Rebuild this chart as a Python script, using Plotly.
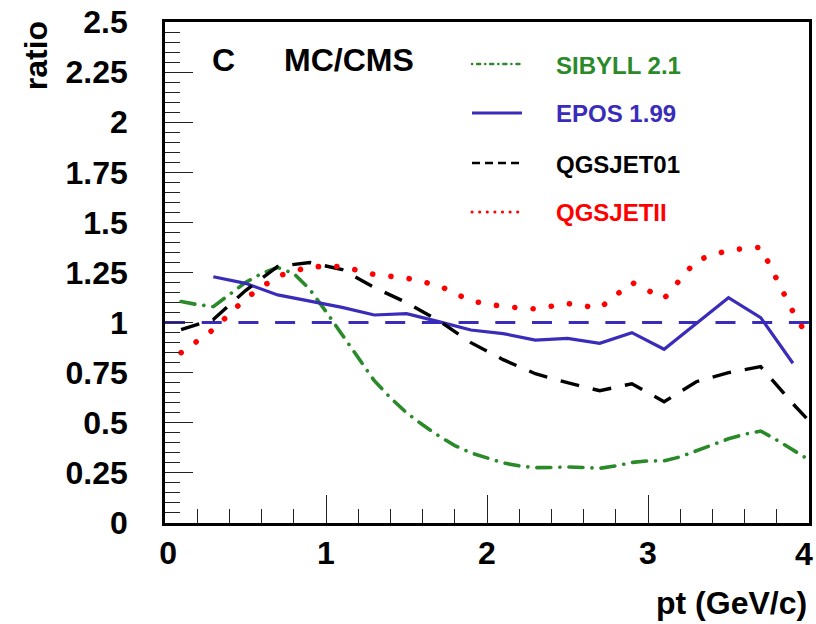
import plotly.graph_objects as go

# ---------------- data ----------------
sib_x = [0.1, 0.2, 0.3, 0.4, 0.5, 0.6, 0.7, 0.8, 0.9, 1.0,
         1.1, 1.2, 1.3, 1.4, 1.5, 1.6, 1.7, 1.8, 1.9, 2.0,
         2.1, 2.2, 2.3, 2.4, 2.5, 2.6, 2.7, 2.8, 2.9, 3.0,
         3.1, 3.2, 3.3, 3.4, 3.5, 3.6, 3.7, 3.8, 3.9, 3.97]
sib_y = [1.105, 1.09, 1.08, 1.14, 1.20, 1.245, 1.275, 1.245, 1.165, 1.055,
         0.94, 0.82, 0.71, 0.625, 0.55, 0.49, 0.435, 0.386, 0.35, 0.325,
         0.30, 0.285, 0.276, 0.277, 0.28, 0.277, 0.273, 0.285, 0.302, 0.31,
         0.31, 0.33, 0.36, 0.39, 0.42, 0.443, 0.459, 0.414, 0.365, 0.33]

epos_x = [0.3, 0.5, 0.7, 0.9, 1.1, 1.3, 1.5, 1.7, 1.9, 2.1,
          2.3, 2.5, 2.7, 2.9, 3.1, 3.3, 3.5, 3.7, 3.9]
epos_y = [1.229, 1.196, 1.138, 1.109, 1.076, 1.038, 1.045, 1.005, 0.963, 0.945,
          0.913, 0.921, 0.897, 0.950, 0.867, 0.995, 1.124, 1.025, 0.797]

qgs01_x = [0.1, 0.3, 0.5, 0.7, 0.9, 1.1, 1.3, 1.5, 1.7, 1.9,
           2.1, 2.3, 2.5, 2.7, 2.9, 3.1, 3.3, 3.5, 3.7, 3.9, 4.0]
qgs01_y = [0.965, 1.015, 1.16, 1.28, 1.30, 1.265, 1.175, 1.10, 1.01, 0.90,
           0.815, 0.745, 0.70, 0.66, 0.695, 0.605, 0.705, 0.75, 0.78, 0.595, 0.51]

qgs2_x = [0.1, 0.3, 0.5, 0.7, 0.9, 1.1, 1.3, 1.5, 1.7, 1.9,
          2.1, 2.3, 2.5, 2.7, 2.9, 3.1, 3.3, 3.5, 3.7, 3.9, 4.0]
qgs2_y = [0.85, 0.965, 1.12, 1.232, 1.279, 1.28, 1.24, 1.222, 1.185, 1.108,
          1.08, 1.068, 1.095, 1.072, 1.20, 1.12, 1.31, 1.362, 1.376, 1.055, 0.92]

ref_x = [0.0, 4.0]
ref_y = [1.0, 1.0]

y_tickvals = [0, 0.25, 0.5, 0.75, 1, 1.25, 1.5, 1.75, 2, 2.25, 2.5]
y_ticktext = ["0", "0.25", "0.5", "0.75", "1", "1.25", "1.5", "1.75", "2", "2.25", "2.5"]
x_tickvals = [0, 1, 2, 3, 4]
x_ticktext = ["\u20090", "1", "2", "3", ""]
x_last_label = "4"   # drawn as an annotation so it stays inside the page edge

legend_names = ["SIBYLL 2.1", "EPOS 1.99", "QGSJET01", "QGSJETII"]

# ---------------- styles ----------------
GREEN = "rgb(42, 138, 42)"
BLUE = "rgb(58, 44, 186)"
BLACK = "black"
RED = "rgb(255, 0, 0)"
FONT = "Liberation Sans"

fig = go.Figure()

fig.add_trace(go.Scatter(x=ref_x, y=ref_y, mode="lines",
                         line=dict(color=BLUE, width=3, dash="20px,16.7px"),
                         showlegend=False, hoverinfo="skip"))
fig.add_trace(go.Scatter(x=sib_x, y=sib_y, mode="lines", name=legend_names[0],
                         line=dict(color=GREEN, width=3.6, dash="14px,9px,0.1px,9px"),
                         showlegend=False))
fig.add_trace(go.Scatter(x=epos_x, y=epos_y, mode="lines", name=legend_names[1],
                         line=dict(color=BLUE, width=3.2),
                         showlegend=False))
fig.add_trace(go.Scatter(x=qgs01_x, y=qgs01_y, mode="lines", name=legend_names[2],
                         line=dict(color=BLACK, width=3.4, dash="19px,14px"),
                         showlegend=False))
fig.add_trace(go.Scatter(x=qgs2_x, y=qgs2_y, mode="lines", name=legend_names[3],
                         line=dict(color=RED, width=5.6, dash="0.1px,18.3px"),
                         showlegend=False))

# ---------------- manual legend ----------------
leg_colors = [GREEN, BLUE, BLACK, RED]
leg_dash = ["0.1px,5px,3px,5px", "solid", "8px,5px", "0.1px,7.5px"]
leg_width = [2.5, 3, 2.5, 3]
leg_y = [2.29, 2.046, 1.796, 1.552]
for name, c, d, w, yy in zip(legend_names, leg_colors, leg_dash, leg_width, leg_y):
    fig.add_shape(type="line", xref="x", yref="y", x0=1.907, x1=2.217, y0=yy, y1=yy,
                  line=dict(color=c, width=w, dash=d))
    fig.add_annotation(x=2.416, y=yy - 0.005, xref="x", yref="y", text=name,
                       showarrow=False, xanchor="left", yanchor="middle",
                       font=dict(family=FONT, size=24, color=c, weight="bold"))

fig.add_annotation(x=0.28, y=2.31, xref="x", yref="y", text="C", showarrow=False,
                   xanchor="left", yanchor="middle",
                   font=dict(family=FONT, size=32, color="black", weight="bold"))
fig.add_annotation(x=0.725, y=2.31, xref="x", yref="y", text="MC/CMS", showarrow=False,
                   xanchor="left", yanchor="middle",
                   font=dict(family=FONT, size=32, color="black", weight="bold"))

# last x tick label
fig.add_annotation(x=x_tickvals[-1], y=-0.062, xref="x", yref="paper", text=x_last_label,
                   showarrow=False, xanchor="right", yanchor="middle", xshift=6,
                   font=dict(family=FONT, size=32, color="black", weight="bold"))

# axis titles
fig.add_annotation(x=1.0, y=-0.16, xref="paper", yref="paper", text="pt (GeV/c)",
                   showarrow=False, xanchor="right", yanchor="middle",
                   font=dict(family=FONT, size=32, color="black", weight="bold"))
fig.add_annotation(x=-0.2, y=0.932, xref="paper", yref="paper", text="ratio",
                   showarrow=False, xanchor="center", yanchor="middle", textangle=-90,
                   font=dict(family=FONT, size=32, color="black", weight="bold"))

axis_common = dict(showgrid=False, zeroline=False, showline=True, linecolor="black",
                   linewidth=2.6, mirror=True, ticks="inside", tickcolor="#222",
                   tickwidth=1.2, automargin=False,
                   tickfont=dict(family=FONT, size=32, color="black", weight="bold"))

fig.update_xaxes(range=[0, 4], tickvals=x_tickvals, ticktext=x_ticktext, ticklen=28,
                 ticklabelstandoff=0,
                 minor=dict(dtick=0.2, ticklen=14, ticks="inside", tickcolor="#222",
                            tickwidth=1.2),
                 **axis_common)
fig.update_yaxes(range=[0, 2.5], tickvals=y_tickvals, ticktext=y_ticktext, ticklen=28,
                 ticklabelstandoff=28,
                 minor=dict(dtick=0.05, ticklen=15, ticks="inside", tickcolor="#222",
                            tickwidth=1.2),
                 **axis_common)

fig.update_layout(width=816, height=624, autosize=False,
                  margin=dict(l=165, r=7, t=22, b=101),
                  paper_bgcolor="white", plot_bgcolor="white",
                  showlegend=False)

post = """
var gd = document.getElementById('{plot_id}');
function fixCaps(){
  gd.querySelectorAll('path').forEach(function(p){
    var s = p.style.stroke;
    if (s === 'rgb(255, 0, 0)' || s === 'rgb(42, 138, 42)') {
      p.style.strokeLinecap = 'round';
    }
  });
}
fixCaps();
gd.on && gd.on('plotly_afterplot', fixCaps);
"""

fig.write_html("out.html", post_script=post, config={"displayModeBar": False})
